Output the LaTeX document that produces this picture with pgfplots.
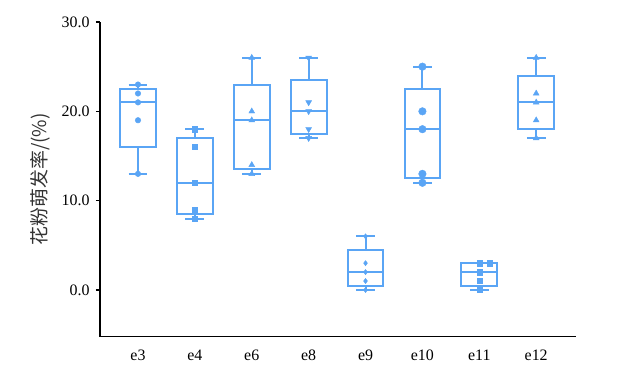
\documentclass[border=0pt]{standalone}
\usepackage{pgfplots}
\pgfplotsset{compat=1.18}
\usepgfplotslibrary{statistics}
\usepackage{fontspec}
\setmainfont{Liberation Serif}
\newfontfamily\cjk{Noto Sans CJK SC}
\definecolor{boxc}{RGB}{90,165,245}
\begin{document}
\begin{tikzpicture}
\useasboundingbox (-100bp,-46.3bp) rectangle (537bp,336.7bp);
\begin{axis}[
  scale only axis,
  width=476bp, height=314.7bp,
  xmin=-0.668, xmax=7.70,
  ymin=-5.23, ymax=30,
  axis x line=bottom, axis y line=left,
  axis line style={-, line width=1.5bp, black},
  xtick={0,1,2,3,4,5,6,7},
  xticklabels={e3,e4,e6,e8,e9,e10,e11,e12},
  x tick style={draw=none},
  ytick={0,10,20,30},
  y tick style={line width=1.3bp, black},
  tick align=outside,
  major tick length=4bp,
  yticklabel style={/pgf/number format/fixed, /pgf/number format/fixed zerofill, /pgf/number format/precision=1, /pgf/number format/assume math mode=true, xshift=-3bp},
  xticklabel style={yshift=-6bp},
  tick label style={font=\fontsize{16}{18}\selectfont},
  ylabel={\cjk 花粉萌发率/(\%)},
  ylabel style={at={(axis description cs:-0.126,0.5)}, anchor=center, font=\fontsize{19}{22}\selectfont, text=black!80},
  boxplot/draw direction=y,
  boxplot/box extend=0.63,
  boxplot/whisker extend=0.33,
  bx/.style={draw=boxc, line width=2bp, solid},
  clip=false,
]
\addplot[bx, boxplot prepared={draw position=0, lower whisker=13, lower quartile=16, median=21, upper quartile=22.5, upper whisker=23}] coordinates {};
\addplot[bx, boxplot prepared={draw position=1, lower whisker=8, lower quartile=8.5, median=12, upper quartile=17, upper whisker=18}] coordinates {};
\addplot[bx, boxplot prepared={draw position=2, lower whisker=13, lower quartile=13.5, median=19, upper quartile=23, upper whisker=26}] coordinates {};
\addplot[bx, boxplot prepared={draw position=3, lower whisker=17, lower quartile=17.5, median=20, upper quartile=23.5, upper whisker=26}] coordinates {};
\addplot[bx, boxplot prepared={draw position=4, lower whisker=0, lower quartile=0.5, median=2, upper quartile=4.5, upper whisker=6}] coordinates {};
\addplot[bx, boxplot prepared={draw position=5, lower whisker=12, lower quartile=12.5, median=18, upper quartile=22.5, upper whisker=25}] coordinates {};
\addplot[bx, boxplot prepared={draw position=6, lower whisker=0, lower quartile=0.5, median=2, upper quartile=3, upper whisker=3}] coordinates {};
\addplot[bx, boxplot prepared={draw position=7, lower whisker=17, lower quartile=18, median=21, upper quartile=24, upper whisker=26}] coordinates {};
% points
\addplot[only marks, mark=*, mark size=2.8bp, boxc] coordinates {(0,13)(0,19)(0,21)(0,22)(0,23)};
\addplot[only marks, mark=square*, mark size=2.6bp, boxc] coordinates {(1,8)(1,9)(1,12)(1,16)(1,18)};
\addplot[only marks, mark=triangle*, mark size=3.4bp, boxc] coordinates {(2,13)(2,14)(2,19)(2,20)(2,26)};
\addplot[only marks, mark=triangle*, mark options={rotate=180}, mark size=3.4bp, boxc] coordinates {(3,17)(3,18)(3,20)(3,21)(3,26)};
\addplot[only marks, mark=diamond*, mark size=2.6bp, boxc] coordinates {(4,0)(4,1)(4,2)(4,3)(4,6)};
\addplot[only marks, mark=*, mark size=3.8bp, boxc] coordinates {(5,12)(5,13)(5,18)(5,20)(5,25)};
\addplot[only marks, mark=square*, mark size=2.6bp, boxc] coordinates {(6,0)(6,1)(6,2)(6,3)(6.18,3)};
\addplot[only marks, mark=triangle*, mark size=3.4bp, boxc] coordinates {(7,17)(7,19)(7,21)(7,22)(7,26)};
\end{axis}
\end{tikzpicture}
\end{document}
